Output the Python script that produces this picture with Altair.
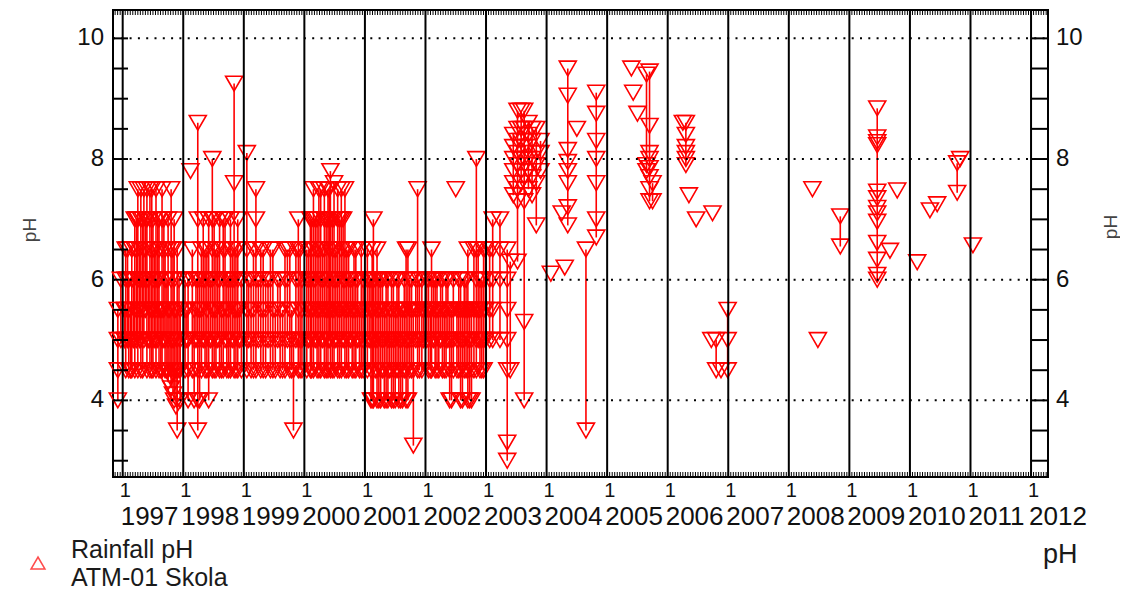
import altair as alt
import pandas as pd

# ---------------- data ----------------
years = list(range(1997, 2013))
year_labels = [str(y) for y in years]
day_labels = ["1"] * len(years)
y_major = [4, 6, 8, 10]
y_major_labels = ["4", "6", "8", "10"]
y_minor = [3.0, 3.5, 4.0, 4.5, 5.0, 5.5, 6.0, 6.5, 7.0, 7.5, 8.0, 8.5, 9.0, 9.5, 10.0]

sample_dates = [
    1996.92, 1996.97,
    1997.05, 1997.10, 1997.15, 1997.20, 1997.25, 1997.30, 1997.35, 1997.40, 1997.45, 1997.50,
    1997.55, 1997.60, 1997.65, 1997.70, 1997.75, 1997.80, 1997.85, 1997.90, 1997.95,
    1998.03, 1998.08, 1998.12, 1998.18, 1998.24, 1998.30, 1998.36, 1998.42, 1998.48, 1998.54,
    1998.60, 1998.66, 1998.72, 1998.78, 1998.84, 1998.90, 1998.96,
    1999.05, 1999.12, 1999.20, 1999.28, 1999.36, 1999.44, 1999.52, 1999.60, 1999.68, 1999.76,
    1999.82, 1999.90, 1999.96,
    2000.04, 2000.10, 2000.15, 2000.21, 2000.27, 2000.33, 2000.39, 2000.43, 2000.49, 2000.55,
    2000.61, 2000.67, 2000.73, 2000.79, 2000.85, 2000.91, 2000.97,
    2001.04, 2001.10, 2001.14, 2001.20, 2001.26, 2001.32, 2001.38, 2001.44, 2001.50, 2001.56,
    2001.62, 2001.68, 2001.74, 2001.80, 2001.87, 2001.94,
    2002.05, 2002.10, 2002.16, 2002.22, 2002.28, 2002.34, 2002.40, 2002.46, 2002.50, 2002.52,
    2002.58, 2002.64, 2002.70, 2002.76, 2002.84, 2002.90, 2002.96,
    2003.06, 2003.11, 2003.23, 2003.35, 2003.40, 2003.45, 2003.52, 2003.58, 2003.63, 2003.70,
    2003.76, 2003.83, 2003.90,
    2004.07, 2004.25, 2004.30, 2004.35, 2004.50, 2004.65, 2004.82,
    2005.40, 2005.43, 2005.50, 2005.65, 2005.70, 2005.75,
    2006.25, 2006.30, 2006.35, 2006.47, 2006.72, 2006.74, 2006.80, 2006.88, 2006.99,
    2008.39, 2008.48, 2008.85,
    2009.46, 2009.67, 2009.79, 2010.12, 2010.33, 2010.45, 2010.78, 2010.83, 2011.04,
]

sample_ph = [
    [4.0, 4.5, 5.0, 5.5], [5.0, 6.0],
    [4.5, 5.0, 5.5, 6.0, 6.5], [4.5, 5.0, 5.5, 6.0], [4.5, 5.0, 6.0, 6.5], [4.5, 5.0, 5.5, 6.5, 7.0],
    [4.5, 5.5, 6.0, 7.0, 7.5], [4.5, 5.0, 5.5, 6.0, 7.0, 7.5], [5.0, 5.5, 6.0, 6.5, 7.5],
    [4.5, 5.0, 6.0, 7.0, 7.5], [4.5, 5.0, 5.5, 6.5, 7.0, 7.5], [4.5, 5.0, 5.5, 6.0, 6.5, 7.0],
    [4.5, 5.0, 5.5, 6.0, 7.5], [4.5, 5.5, 6.0, 6.5, 7.0], [4.5, 5.0, 5.5, 6.5, 7.0, 7.5],
    [4.5, 5.0, 6.0, 6.5], [4.3, 4.5, 5.0, 5.5, 6.5, 7.0], [4.2, 4.5, 5.0, 6.0, 6.5, 7.5],
    [4.0, 4.5, 5.0, 5.5, 6.0, 7.0], [3.5, 4.0, 4.5, 5.0, 6.5], [4.0, 4.5, 5.0, 5.5],
    [4.5, 5.0, 5.5, 6.0], [4.0, 4.5, 5.0, 6.0], [7.8], [4.0, 4.5, 5.0, 5.5],
    [3.5, 4.0, 4.5, 5.0, 5.5, 6.0, 7.0, 8.6], [4.5, 5.0, 5.5, 6.5], [4.5, 5.0, 6.0, 6.5],
    [4.0, 4.5, 5.0, 6.0, 7.0], [4.5, 5.0, 5.5, 6.0, 6.5, 7.0, 8.0], [4.5, 5.0, 5.5, 6.5],
    [4.5, 5.0, 6.0, 7.0], [4.5, 5.5, 6.0, 6.5, 7.0], [4.5, 5.0, 5.5, 6.0], [4.5, 5.0, 6.0, 6.5, 7.0],
    [4.5, 5.0, 5.5, 6.0, 7.6, 9.25], [4.5, 5.0, 5.5, 6.0, 6.5, 7.0], [4.5, 5.0, 6.0],
    [4.5, 5.0, 5.5, 6.5, 8.1], [4.5, 5.0, 5.5, 6.0], [4.5, 5.0, 6.0, 6.5, 7.0, 7.5],
    [4.5, 5.0, 5.5, 6.0, 6.5], [4.5, 5.0, 5.5, 6.0], [4.5, 5.0, 6.0, 6.5], [4.5, 5.0, 5.5],
    [4.5, 5.0, 5.5, 6.0], [4.5, 5.0, 6.0, 6.5], [4.5, 5.0, 5.5, 6.5],
    [3.5, 4.5, 5.0], [4.5, 5.0, 5.5, 6.0, 6.5, 7.0], [4.5, 5.0, 5.5, 6.0],
    [4.5, 5.0, 5.5, 6.0, 6.5], [4.5, 5.0, 5.5, 6.0, 7.0], [4.5, 5.0, 5.5, 6.0, 6.5, 7.0, 7.5],
    [4.5, 5.0, 5.5, 6.5, 7.0], [4.5, 5.0, 5.5, 6.0, 7.0, 7.5], [4.5, 5.0, 5.5, 6.0, 6.5, 7.0, 7.5],
    [4.5, 5.0, 5.5, 6.0, 7.0, 7.5], [4.5, 5.0, 5.5, 6.0, 6.5, 7.0, 7.8],
    [4.5, 5.0, 5.5, 6.0, 6.5, 7.0, 7.6], [4.5, 5.0, 5.5, 6.0, 7.0, 7.5],
    [4.5, 5.0, 5.5, 6.5, 7.0, 7.5], [4.5, 5.0, 5.5, 6.0, 6.5, 7.5], [4.5, 5.0, 5.5, 6.0, 6.5],
    [4.5, 5.0, 5.5, 6.0], [4.5, 5.0, 5.5, 6.0, 6.5], [4.5, 5.0, 5.5], [4.5, 5.0, 5.5, 6.0],
    [4.5, 5.0, 5.5, 6.0, 6.5], [4.0, 4.5, 5.0, 5.5, 6.0], [4.0, 5.0, 5.5, 6.0, 7.0],
    [4.0, 4.5, 5.0, 5.5, 6.5], [4.0, 4.5, 5.0, 5.5, 6.0], [4.0, 4.5, 5.0, 5.5], [4.0, 4.5, 5.0, 6.0],
    [4.0, 4.5, 5.0, 5.5, 6.0], [4.0, 4.5, 5.0, 5.5], [4.0, 4.5, 5.0, 6.0], [4.0, 4.5, 5.0, 5.5],
    [4.0, 4.5, 5.0, 5.5, 6.5], [4.5, 5.0, 5.5, 6.0], [3.25, 4.5, 5.0, 5.5], [4.5, 5.0, 5.5, 7.5],
    [4.5, 5.0, 5.5, 6.0],
    [4.5, 5.0, 5.5, 6.0], [4.5, 5.0, 5.5, 6.0, 6.5], [4.5, 5.0, 5.5, 6.0], [4.5, 5.0, 5.5],
    [4.5, 5.0, 5.5, 6.0], [4.5, 5.0, 5.5, 6.0], [4.0, 4.5, 5.0, 5.5], [4.5, 5.0, 5.5, 6.0],
    [7.5], [4.5, 5.0, 5.5], [4.0, 4.5, 5.0, 5.5, 6.0], [4.5, 5.0, 5.5, 6.0],
    [4.0, 4.5, 5.0, 5.5, 6.5], [4.0, 4.5, 5.0, 5.5], [4.5, 5.0, 5.5, 6.0, 6.5, 8.0],
    [4.5, 5.0, 5.5, 6.0], [4.5, 5.0, 5.5, 6.0, 6.5],
    [5.0, 5.5, 6.0, 6.5], [5.0, 5.5, 6.0, 6.5, 7.0], [5.0, 6.0, 6.5, 7.0],
    [3.0, 3.3, 4.5, 5.0, 5.5, 6.0, 6.5], [4.5, 6.3],
    [7.4, 7.6, 7.8, 8.0, 8.2, 8.4], [6.3, 7.3, 7.5, 7.9, 8.1, 8.3, 8.5, 8.8],
    [7.6, 7.8, 8.0, 8.3, 8.5, 8.8], [4.0, 5.3, 7.3, 7.7, 8.0, 8.2, 8.5, 8.8],
    [7.5, 7.8, 8.0, 8.2, 8.4, 8.6], [7.4, 7.7, 8.0, 8.3, 8.5], [6.9, 7.6, 7.9, 8.1, 8.5],
    [7.8, 8.1, 8.3],
    [6.1], [7.1], [6.2], [6.9, 7.2, 7.6, 7.8, 7.95, 8.15, 9.05, 9.5], [8.5], [3.5, 6.5],
    [6.7, 7.0, 7.6, 8.0, 8.3, 8.75, 9.1],
    [9.5], [9.1], [8.75], [7.8, 7.9, 9.4], [7.3, 7.5, 7.7, 7.85, 8.0, 8.1, 8.55, 9.45], [7.3, 7.6],
    [8.6], [7.9, 8.0, 8.1, 8.2, 8.4, 8.6], [7.4], [7.0], [5.0], [7.1], [4.5, 5.0], [4.5],
    [4.5, 5.0, 5.5],
    [7.5], [5.0], [6.55, 7.05],
    [6.0, 6.08, 6.33, 6.61, 6.96, 7.1, 7.19, 7.35, 7.46, 8.23, 8.28, 8.36, 8.84],
    [6.48], [7.48], [6.29], [7.15], [7.25], [7.44, 7.93], [8.0], [6.57],
]

# additional sampling days in the dense 1997-2002 period
extra_dates = [
    1997.03, 1997.08, 1997.13, 1997.18, 1997.23, 1997.28, 1997.33, 1997.38, 1997.43, 1997.48,
    1997.53, 1997.58, 1997.63, 1997.68, 1997.73, 1997.78, 1997.83, 1997.88, 1997.93,
    1998.06, 1998.15, 1998.21, 1998.27, 1998.33, 1998.39, 1998.45, 1998.51, 1998.57, 1998.63,
    1998.69, 1998.75, 1998.81, 1998.87, 1998.93,
    1999.08, 1999.16, 1999.24, 1999.32, 1999.40, 1999.48, 1999.56, 1999.64, 1999.72, 1999.79,
    1999.86, 1999.93,
    2000.07, 2000.12, 2000.18, 2000.24, 2000.30, 2000.36, 2000.41, 2000.46, 2000.52, 2000.58,
    2000.64, 2000.70, 2000.76, 2000.82, 2000.88, 2000.94,
    2001.07, 2001.12, 2001.17, 2001.23, 2001.29, 2001.35, 2001.41, 2001.47, 2001.53, 2001.59,
    2001.65, 2001.71, 2001.77, 2001.84, 2001.90, 2001.97,
    2002.02, 2002.08, 2002.13, 2002.19, 2002.25, 2002.31, 2002.37, 2002.43, 2002.55, 2002.61,
    2002.67, 2002.73, 2002.80, 2002.87, 2002.93, 2002.99,
]
extra_ph = [
    [5.0, 5.5], [5.0, 6.0, 6.5], [4.5, 5.5], [5.0, 6.0], [5.0, 6.5, 7.0], [5.0, 6.5],
    [4.5, 6.0, 7.0], [5.5, 6.5, 7.0], [5.0, 6.0], [4.5, 5.5, 7.5], [5.0, 6.5], [5.0, 6.0, 7.0],
    [4.5, 5.5], [5.0, 5.5, 7.0], [4.5, 6.0], [4.4, 5.5], [4.1, 5.0, 6.5], [3.9, 4.5, 5.5],
    [4.5, 6.0],
    [5.0, 5.5], [4.5, 6.0, 6.5], [5.0, 6.0], [4.0, 5.5, 6.0], [5.0, 6.0, 7.0], [4.5, 5.5, 6.5],
    [5.0, 6.0], [4.5, 5.5, 7.0], [5.0, 6.0, 6.5], [4.5, 5.5], [5.0, 6.5, 7.0], [4.5, 5.5, 6.0],
    [5.0, 6.0, 6.5], [4.5, 5.5, 6.5], [5.0, 5.5],
    [5.0, 6.0], [4.5, 5.5, 6.5], [5.0, 6.0], [4.5, 5.5, 6.5], [5.0, 6.0], [4.5, 5.5, 6.5],
    [5.0, 6.0], [4.5, 5.5], [5.0, 6.0, 6.5], [4.5, 5.5], [5.0, 6.0, 6.5], [4.5, 5.0, 6.5],
    [5.0, 6.0, 6.5], [4.5, 5.5, 7.0], [5.0, 6.0, 7.0], [4.5, 5.5, 6.5, 7.5], [5.0, 6.0, 6.5],
    [4.5, 5.5, 7.0], [5.0, 6.5, 7.5], [4.5, 5.5, 7.0], [5.0, 6.0, 6.5], [4.5, 5.5, 7.0],
    [5.0, 6.0, 7.0], [4.5, 5.5, 6.5], [5.0, 6.0], [4.5, 5.5, 6.5], [5.0, 6.0], [4.5, 5.5, 6.5],
    [5.0, 6.0], [4.0, 5.5, 6.5], [4.5, 5.0, 6.0], [4.0, 5.5, 6.0], [4.5, 5.0, 6.0],
    [4.0, 5.5, 6.0], [4.5, 5.0, 5.5], [4.0, 5.0, 6.0], [4.5, 5.5, 6.0], [4.0, 5.0, 5.5],
    [4.5, 5.5, 6.0], [4.0, 5.0, 6.5], [4.5, 5.5, 6.0], [5.0, 5.5, 6.0], [4.5, 5.0, 6.0],
    [5.0, 5.5],
    [5.0, 5.5, 6.0], [4.5, 5.5], [5.0, 6.0], [4.5, 5.5, 6.0], [5.0, 6.0], [4.5, 5.5],
    [5.0, 6.0], [4.0, 5.0, 5.5], [4.5, 5.5, 6.0], [4.0, 5.0, 5.5], [4.5, 5.5, 6.0],
    [4.0, 5.0, 5.5], [4.5, 5.5, 6.5], [5.0, 5.5, 6.5], [4.5, 5.0, 6.0], [5.0, 5.5, 6.5],
]

# ---------------- tables ----------------
pts = pd.DataFrame(
    [{"date": d, "ph": v}
     for d, vals in zip(sample_dates + extra_dates, sample_ph + extra_ph) for v in vals]
)
stems = pts.groupby("date")["ph"].agg(["min", "max"]).reset_index()
stems = stems[stems["max"] > stems["min"]]

years_df = pd.DataFrame({"year": years, "label": year_labels, "day": day_labels})
minor_x = pd.DataFrame({"t": [y + m / 24 for y in range(1996, 2013) for m in range(24)]})
minor_x = minor_x[(minor_x.t > 1996.85) & (minor_x.t < 2012.27)]
ymaj_df = pd.DataFrame({"v": y_major, "label": y_major_labels})
ymin_df = pd.DataFrame({"v": y_minor})
one = pd.DataFrame({"k": [0]})

W, H = 935, 467
xs = alt.Scale(domain=[1996.84, 2012.28], nice=False, zero=False)
ys = alt.Scale(domain=[2.73, 10.47], nice=False, zero=False)
FONT = "Liberation Sans"
RED = "#ff0000"

X = lambda f: alt.X(f, type="quantitative", scale=xs, axis=None)
Y = lambda f: alt.Y(f, type="quantitative", scale=ys, axis=None)

stem_layer = alt.Chart(stems).mark_rule(color=RED, strokeWidth=1.6).encode(
    x=X("date"), y=Y("min"), y2="max"
)
point_layer = alt.Chart(pts).mark_point(
    shape="triangle-down", filled=False, color=RED, strokeWidth=1.6, size=290, opacity=1
).encode(x=X("date"), y=Y("ph"))

grid_layer = alt.Chart(ymaj_df).mark_rule(
    color="black", strokeWidth=2, strokeDash=[2, 6.3]
).encode(y=Y("v"), x=alt.value(0), x2=alt.value(W))

year_lines = alt.Chart(years_df).mark_rule(color="black", strokeWidth=2).encode(
    x=X("year"), y=alt.value(0), y2=alt.value(H)
)
minor_bottom = alt.Chart(minor_x).mark_rule(color="black", strokeWidth=1).encode(
    x=X("t"), y=alt.value(H - 5), y2=alt.value(H)
)
minor_top = alt.Chart(minor_x).mark_rule(color="black", strokeWidth=1).encode(
    x=X("t"), y=alt.value(0), y2=alt.value(5)
)
yt_left = alt.Chart(ymin_df).mark_rule(color="black", strokeWidth=2).encode(
    y=Y("v"), x=alt.value(0), x2=alt.value(15)
)
yt_right = alt.Chart(ymin_df).mark_rule(color="black", strokeWidth=2).encode(
    y=Y("v"), x=alt.value(W - 17), x2=alt.value(W)
)

ylab_left = alt.Chart(ymaj_df).mark_text(
    font=FONT, fontSize=24, align="right", baseline="middle", color="#111"
).encode(y=Y("v"), x=alt.value(-9), text="label:N")
ylab_right = alt.Chart(ymaj_df).mark_text(
    font=FONT, fontSize=24, align="left", baseline="middle", color="#111"
).encode(y=Y("v"), x=alt.value(W + 8), text="label:N")

xlab_day = alt.Chart(years_df).mark_text(
    font=FONT, fontSize=20, align="left", baseline="alphabetic", color="#111", dx=-3
).encode(x=X("year"), y=alt.value(H + 20), text="day:N")
xlab_year = alt.Chart(years_df).mark_text(
    font=FONT, fontSize=26, align="left", baseline="alphabetic", color="#111", dx=-2
).encode(x=X("year"), y=alt.value(H + 48), text="label:N")


def label(txt, x, y, size, angle=0, color="#1a1a1a"):
    kw = dict(font=FONT, fontSize=size, align="left", baseline="alphabetic", color=color)
    if angle:
        kw["angle"] = angle
        kw["baseline"] = "middle"
        kw["align"] = "center"
    return alt.Chart(one).mark_text(**kw).encode(
        x=alt.value(x), y=alt.value(y), text=alt.value(txt)
    )


ytitle_left = label("pH", -83, 220, 19, angle=270, color="#444")
ytitle_right = label("pH", 998, 217, 19, angle=270, color="#444")
legend_sym = alt.Chart(one).mark_point(
    shape="triangle-up", filled=False, color=RED, strokeWidth=1.6, size=190
).encode(x=alt.value(-75), y=alt.value(553))
legend_t1 = label("Rainfall pH", -42, 548, 25)
legend_t2 = label("ATM-01 Skola", -42, 576, 25)
bottom_ph = label("pH", 930, 553, 27)

chart = alt.layer(
    stem_layer, point_layer,
    grid_layer, year_lines, minor_bottom, minor_top, yt_left, yt_right,
    ylab_left, ylab_right, xlab_day, xlab_year,
    ytitle_left, ytitle_right, legend_sym, legend_t1, legend_t2, bottom_ph,
).properties(
    width=W,
    height=H,
    padding={"left": 105, "top": 2, "right": 72, "bottom": 116},
    autosize=alt.AutoSizeParams(type="none"),
).configure_view(stroke="black", strokeWidth=2)

chart.save("out.html", embed_options={"renderer": "svg", "actions": False})
